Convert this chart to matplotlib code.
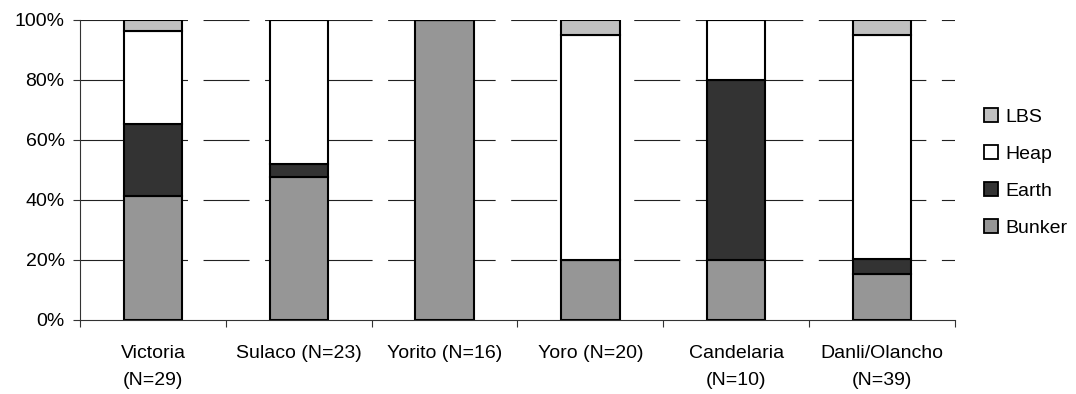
import matplotlib
matplotlib.use("Agg")
import matplotlib.pyplot as plt
from matplotlib.patches import Patch
import numpy as np

plt.rcParams['font.family'] = ['Liberation Sans', 'DejaVu Sans']
plt.rcParams['lines.scale_dashes'] = False

categories = ["Victoria\n(N=29)", "Sulaco (N=23)", "Yorito (N=16)", "Yoro (N=20)",
              "Candelaria\n(N=10)", "Danli/Olancho\n(N=39)"]
series_names = ["Bunker", "Earth", "Heap", "LBS"]
bunker = [41.4, 47.8, 100.0, 20.0, 20.0, 15.4]
earth = [24.1, 4.3, 0.0, 0.0, 60.0, 5.1]
heap = [31.0, 47.8, 0.0, 75.0, 20.0, 74.4]
lbs = [3.4, 0.0, 0.0, 5.0, 0.0, 5.1]
colors = ["#969696", "#333333", "#FFFFFF", "#C0C0C0"]
yticks = [0, 20, 40, 60, 80, 100]
ytick_labels = ["0%", "20%", "40%", "60%", "80%", "100%"]

W, H = 1076, 394
fig = plt.figure(figsize=(W / 100, H / 100), dpi=100)
ax = fig.add_axes([80 / W, (H - 320) / H, 875 / W, 300 / H])

x = np.arange(len(categories))
bottom = np.zeros(len(categories))
handles = []
for name, vals, c in zip(series_names, [bunker, earth, heap, lbs], colors):
    vals = np.array(vals)
    ax.bar(x, vals, bottom=bottom, width=0.40, color=c, edgecolor="black",
           linewidth=1.5, zorder=3)
    handles.append(Patch(facecolor=c, edgecolor="black", linewidth=1.3, label=name))
    bottom += vals

ax.set_xlim(-0.5, len(categories) - 0.5)
ax.set_ylim(0, 100)
ax.set_yticks(yticks)
ax.set_yticklabels(ytick_labels, fontsize=14)
for y in yticks[1:]:
    ax.axhline(y, color="#222222", lw=0.8, linestyle=(0, (33.1, 11.2)), zorder=1)

ax.set_xticks(x)
ax.set_xticklabels(categories, fontsize=14, linespacing=1.75)
ax.tick_params(axis='x', length=0, pad=18)
ax.set_xticks(np.arange(len(categories) + 1) - 0.5, minor=True)
ax.tick_params(axis='x', which='minor', length=5, width=0.8, direction='out', color="#333333")
ax.tick_params(axis='y', length=5, width=0.8, direction='out', pad=6, color="#333333")

for s in ["top", "right"]:
    ax.spines[s].set_visible(False)
for s in ["left", "bottom"]:
    ax.spines[s].set_linewidth(0.8)
    ax.spines[s].set_color("#333333")

leg = fig.legend(handles=handles[::-1], loc="center left",
                 bbox_to_anchor=(984 / W, (H - 172.5) / H),
                 frameon=False, fontsize=14, borderpad=0, borderaxespad=0,
                 handlelength=0.72, handleheight=0.72,
                 handletextpad=0.36, labelspacing=1.0)

fig.savefig("out.png", dpi=100)
